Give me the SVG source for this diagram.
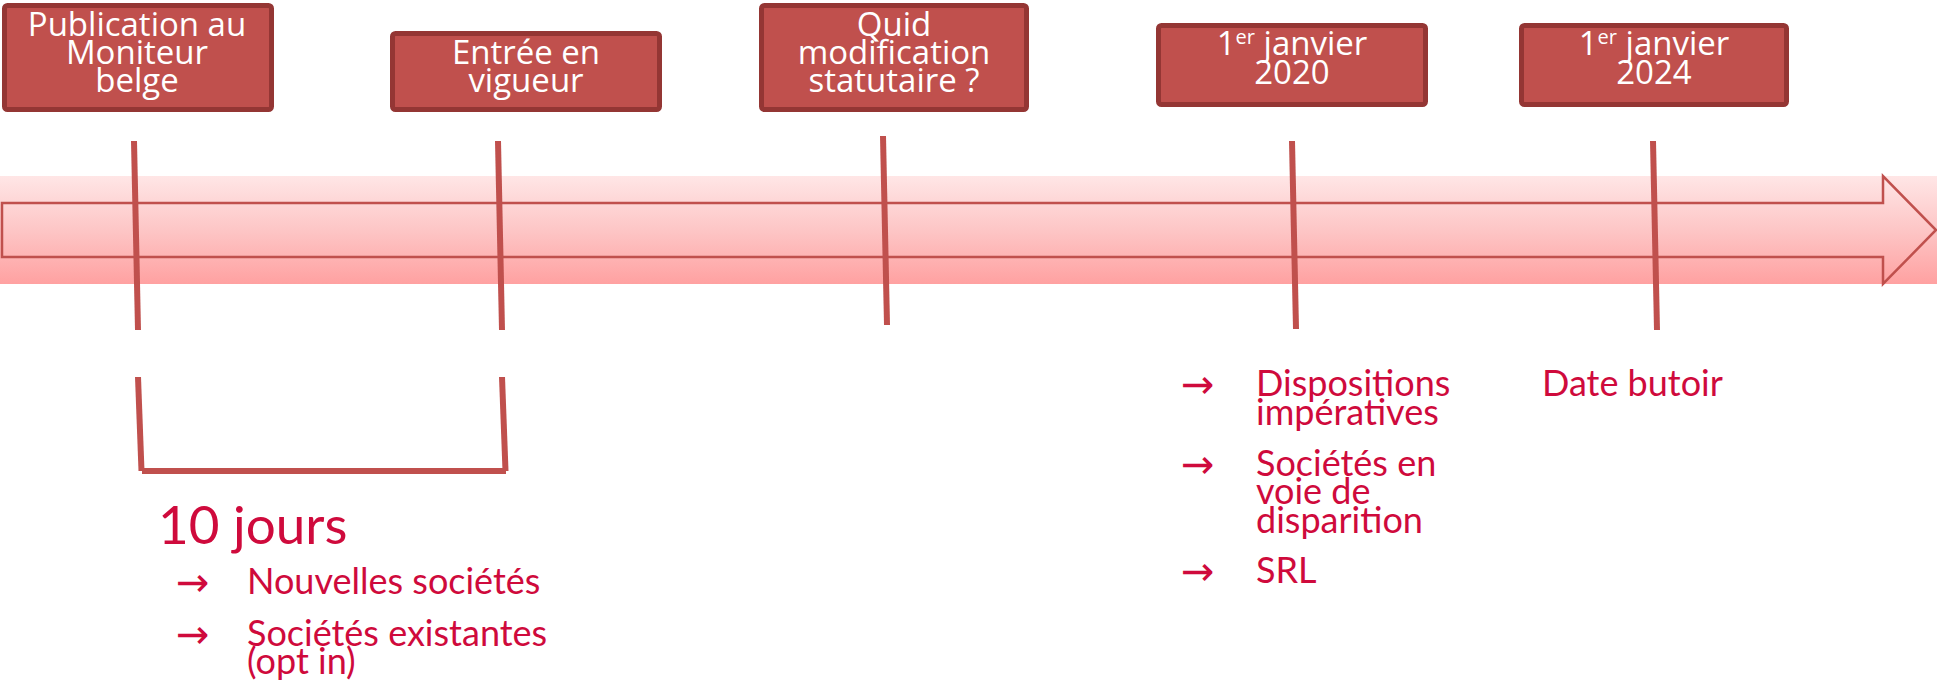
<svg xmlns="http://www.w3.org/2000/svg" width="1937" height="683" viewBox="0 0 1937 683">
<defs>
<linearGradient id="band" x1="0" y1="0" x2="0" y2="1">
<stop offset="0" stop-color="#ffe6e6"/>
<stop offset="0.5" stop-color="#fdc6c6"/>
<stop offset="1" stop-color="#ffa1a1"/>
</linearGradient>
<style>
.box{fill:#c0504d;stroke:#943634;stroke-width:5}
.bt{font-family:"Open Sans","Liberation Sans",sans-serif;font-size:33px;fill:#ffffff;text-anchor:middle}
.tick{stroke:#c0504d;stroke-width:6;fill:none}
.pk{font-family:Lato,"Noto Sans",sans-serif;font-size:36px;fill:#cf0a3c}
.big{font-size:53px}
.ar{font-family:"DejaVu Sans",sans-serif;font-size:40px;fill:#cf0a3c}
</style>
</defs>
<rect x="0" y="176" width="1937" height="108" fill="url(#band)"/>
<path d="M2,203 H1883 V176 L1936,230 L1883,284 V257 H2 Z" fill="none" stroke="#c0504d" stroke-width="2.5"/>
<g id="connectors">
<line class="tick" x1="134" y1="141" x2="138" y2="330"/>
<line class="tick" x1="498" y1="141" x2="502" y2="330"/>
<line class="tick" x1="883" y1="136" x2="887" y2="325"/>
<line class="tick" x1="1292" y1="141" x2="1296" y2="329"/>
<line class="tick" x1="1653" y1="141" x2="1657" y2="330"/>
<line class="tick" x1="138" y1="377" x2="141.5" y2="471"/>
<line class="tick" x1="502" y1="377" x2="505.5" y2="471"/>
<line class="tick" x1="142" y1="471" x2="506" y2="471" stroke-width="8"/>
</g>
<g id="n1">
<rect class="box" x="4.5" y="5.5" width="267" height="104" rx="3"/>
<text class="bt" x="137" y="36">Publication au</text>
<text class="bt" x="137" y="64">Moniteur</text>
<text class="bt" x="137" y="92">belge</text>
</g>
<g id="n2">
<rect class="box" x="392.5" y="33.5" width="267" height="76" rx="3"/>
<text class="bt" x="526" y="64">Entrée en</text>
<text class="bt" x="526" y="92">vigueur</text>
</g>
<g id="n3">
<rect class="box" x="761.5" y="5.5" width="265" height="104" rx="3"/>
<text class="bt" x="894" y="36">Quid</text>
<text class="bt" x="894" y="64">modification</text>
<text class="bt" x="894" y="92">statutaire ?</text>
</g>
<g id="n4">
<rect class="box" x="1158.5" y="25.5" width="267" height="79" rx="3"/>
<text class="bt" x="1292" y="55">1<tspan font-size="20" dy="-11">er</tspan><tspan dy="11"> janvier</tspan></text>
<text class="bt" x="1292" y="84">2020</text>
</g>
<g id="n5">
<rect class="box" x="1521.5" y="25.5" width="265" height="79" rx="3"/>
<text class="bt" x="1654" y="55">1<tspan font-size="20" dy="-11">er</tspan><tspan dy="11"> janvier</tspan></text>
<text class="bt" x="1654" y="84">2024</text>
</g>
<g id="n6">
<text class="pk big" x="158" y="544">10 jours</text>
<text class="ar" x="176" y="596">→</text>
<text class="pk" x="247" y="594">Nouvelles sociétés</text>
<text class="ar" x="176" y="648">→</text>
<text class="pk" x="247" y="646">Sociétés existantes</text>
<text class="pk" x="247" y="674">(opt in)</text>
</g>
<g id="n7">
<text class="ar" x="1181" y="398">→</text>
<text class="pk" x="1256" y="396">Dispositions</text>
<text class="pk" x="1256" y="425">impératives</text>
<text class="ar" x="1181" y="478">→</text>
<text class="pk" x="1256" y="476">Sociétés en</text>
<text class="pk" x="1256" y="504">voie de</text>
<text class="pk" x="1256" y="533">disparition</text>
<text class="ar" x="1181" y="585">→</text>
<text class="pk" x="1256" y="583">SRL</text>
</g>
<g id="n8">
<text class="pk" x="1542" y="396">Date butoir</text>
</g>
</svg>
